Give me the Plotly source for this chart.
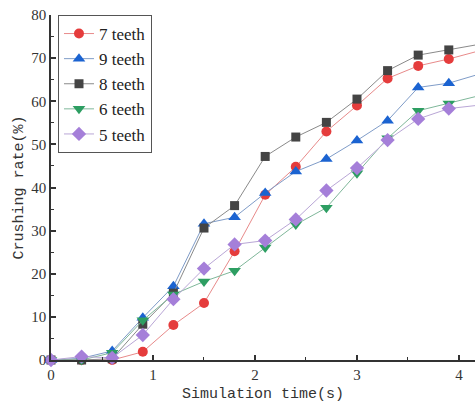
import plotly.graph_objects as go

time_s = [0, 0.3, 0.6, 0.9, 1.2, 1.5, 1.8, 2.1, 2.4, 2.7, 3.0, 3.3, 3.6, 3.9, 4.2]

teeth7 = [0, 0, 0, 1.9, 8.1, 13.2, 25.2, 38.3, 44.8, 53.0, 59.0, 65.3, 68.2, 69.8, 71.7]
teeth9 = [0, 0.4, 2.1, 9.8, 17.1, 31.6, 33.1, 38.7, 43.7, 46.6, 50.9, 55.5, 63.2, 64.2, 66.3]
teeth8 = [0, 0, 0.3, 8.3, 15.5, 30.6, 35.8, 47.2, 51.7, 55.1, 60.5, 67.1, 70.7, 71.9, 73.2]
teeth6 = [0, 0, 1.7, 9.2, 15.2, 18.2, 20.7, 26.1, 31.4, 35.3, 43.3, 51.4, 57.8, 59.5, 61.3]
teeth5 = [0, 0.8, 0.5, 5.8, 14.1, 21.2, 26.8, 27.7, 32.6, 39.3, 44.5, 51.0, 55.9, 58.3, 59.1]

series = [
    ("7 teeth", teeth7, "#e53c3c", "#e88a8a", "circle", 10),
    ("9 teeth", teeth9, "#1b63d1", "#7f9cc8", "triangle-up", 11),
    ("8 teeth", teeth8, "#444444", "#8a8a8a", "square", 9),
    ("6 teeth", teeth6, "#2d9e62", "#7fb79a", "triangle-down", 11),
    ("5 teeth", teeth5, "#a57fd9", "#b9a6d6", "diamond", 11),
]

fig = go.Figure()
for name, vals, color, lcolor, sym, size in series:
    fig.add_trace(go.Scatter(
        x=time_s, y=vals, name=name, mode="lines+markers",
        line=dict(color=lcolor, width=1),
        marker=dict(symbol=sym, size=size, color=color, line=dict(width=0)),
        cliponaxis=False,
    ))

fig.update_layout(
    width=475, height=408,
    margin=dict(l=51, r=0, t=15, b=47.5),
    paper_bgcolor="white", plot_bgcolor="white",
    showlegend=True,
    legend=dict(
        x=0.0165, y=1.0, xanchor="left", yanchor="top",
        bordercolor="#555555", borderwidth=1, bgcolor="white",
        font=dict(family="Liberation Serif", size=17, color="#222222"),
        tracegroupgap=0, itemwidth=30,
    ),
)

fig.update_xaxes(
    range=[0, 4.157], dtick=1, tick0=0,
    showline=True, linecolor="#333333", linewidth=1.5,
    ticks="inside", ticklen=5, tickcolor="#333333", tickwidth=1.5,
    minor=dict(dtick=0.5, ticks="inside", ticklen=3, tickcolor="#333333", tickwidth=1.2),
    showgrid=False, zeroline=False,
    tickfont=dict(family="Liberation Serif", size=15, color="#333333"),
    title=dict(text="Simulation time(s)", standoff=6,
               font=dict(family="Liberation Mono", size=15, color="#333333")),
)
fig.update_yaxes(
    range=[0, 80], dtick=10, tick0=0,
    showline=True, linecolor="#333333", linewidth=1.5,
    ticks="inside", ticklen=5, tickcolor="#333333", tickwidth=1.5,
    minor=dict(dtick=5, ticks="inside", ticklen=3, tickcolor="#333333", tickwidth=1.2),
    showgrid=False, zeroline=False,
    tickfont=dict(family="Liberation Serif", size=15, color="#333333"),
    title=dict(text="Crushing rate(%)", standoff=4,
               font=dict(family="Liberation Mono", size=15, color="#333333")),
)

fig.write_html("out.html")
